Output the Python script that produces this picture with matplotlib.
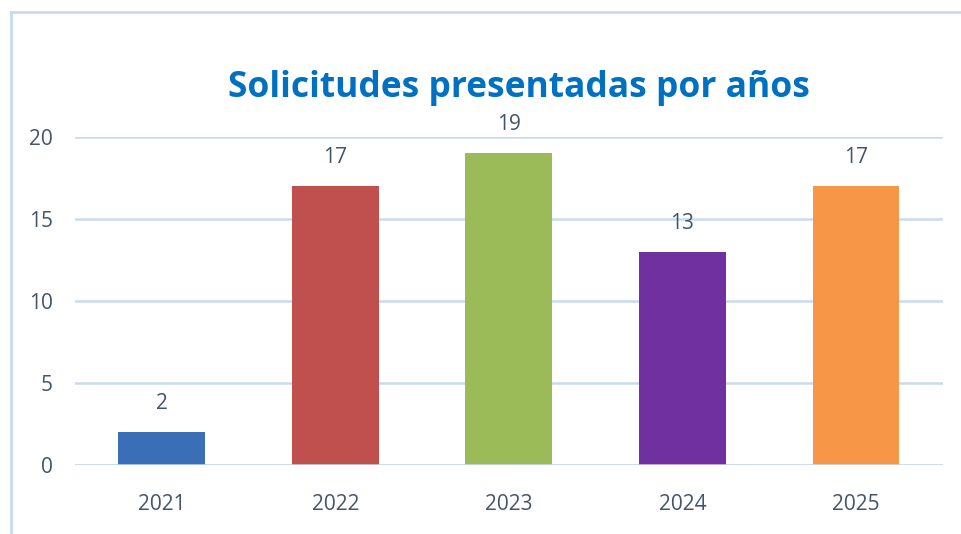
import matplotlib.pyplot as plt
from matplotlib.lines import Line2D
import numpy as np

years = ['2021', '2022', '2023', '2024', '2025']
solicitudes = [2, 17, 19, 13, 17]
bar_colors = ['#3A6FB8', '#C0504D', '#9BBB59', '#7030A0', '#F79646']

text_color = '#44546A'
grid_color = '#C9DAF0'

fig = plt.figure(figsize=(9.61, 5.34), dpi=100)
ax = fig.add_axes([0.078, 0.1292, 0.903, 0.6142])

x = np.arange(len(years))
bars = ax.bar(x, solicitudes, width=0.5, color=bar_colors, zorder=3)

ax.set_xlim(-0.5, len(years) - 0.5)
ax.set_ylim(0, 20)
ax.set_yticks([0, 5, 10, 15, 20])
ax.set_xticks(x, labels=years)
ax.grid(axis='y', color=grid_color, linewidth=1.8, zorder=0)
ax.axhline(0, color=grid_color, linewidth=1.8, zorder=4)
for s in ax.spines.values():
    s.set_visible(False)
ax.tick_params(length=0, labelsize=15, labelcolor=text_color)
ax.tick_params(axis='x', pad=21)
ax.tick_params(axis='y', pad=16)
for lbl in ax.get_xticklabels() + ax.get_yticklabels():
    lbl.set_family('Open Sans')

ax.bar_label(bars, padding=13, fontsize=15, color=text_color, family='Open Sans')

fig.text(0.54, 0.835, 'Solicitudes presentadas por años', ha='center', va='center',
         fontsize=25.5, fontweight='bold', color='#0070C0', family='Open Sans')

# marco exterior
fig.add_artist(Line2D([11 / 961, 11 / 961], [0, 1 - 12 / 534], transform=fig.transFigure,
                      color=grid_color, linewidth=2))
fig.add_artist(Line2D([11 / 961, 1], [1 - 12 / 534, 1 - 12 / 534], transform=fig.transFigure,
                      color=grid_color, linewidth=2))

fig.savefig('out.png', dpi=100)
